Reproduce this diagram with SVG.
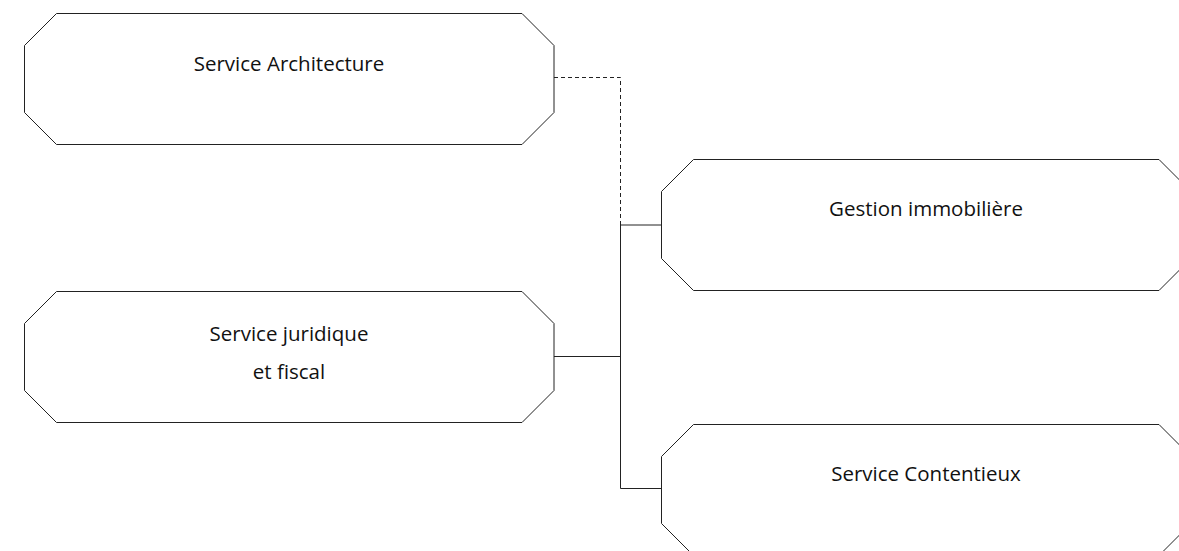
<svg xmlns="http://www.w3.org/2000/svg" width="1179" height="551" viewBox="0 0 1179 551">
<style>
.box{fill:#fff;stroke:#222;stroke-width:1}
.lbl{font-family:"Open Sans","Noto Sans",sans-serif;font-size:20.5px;fill:#111;text-anchor:middle}
.c{fill:none;stroke:#222;stroke-width:1}
.d{stroke-dasharray:4 3}
</style>
<rect width="1179" height="551" fill="#fff"/>
<g id="connectors">
<path class="c d" d="M554 77.5H620.5V225"/>
<path class="c" d="M620.5 225H661.5"/>
<path class="c" d="M554 356.5H620.5"/>
<path class="c" d="M620.5 225V488.5H661.5"/>
</g>
<g id="n1">
<polygon class="box" points="56.5,13.5 522,13.5 554,45.5 554,112.5 522,144.5 56.5,144.5 24.5,112.5 24.5,45.5"/>
<text class="lbl" x="289" y="71">Service Architecture</text>
</g>
<g id="n2">
<polygon class="box" points="56.5,291.5 522,291.5 554,323.5 554,390.5 522,422.5 56.5,422.5 24.5,390.5 24.5,323.5"/>
<text class="lbl" x="289" y="341">Service juridique</text>
<text class="lbl" x="289" y="379">et fiscal</text>
</g>
<g id="n3">
<polygon class="box" points="693.5,159.5 1159,159.5 1191,191.5 1191,258.5 1159,290.5 693.5,290.5 661.5,258.5 661.5,191.5"/>
<text class="lbl" x="926" y="216">Gestion immobilière</text>
</g>
<g id="n4">
<polygon class="box" points="693.5,424.5 1159,424.5 1191,456.5 1191,523.5 1159,555.5 693.5,555.5 661.5,523.5 661.5,456.5"/>
<text class="lbl" x="926" y="481">Service Contentieux</text>
</g>
</svg>
